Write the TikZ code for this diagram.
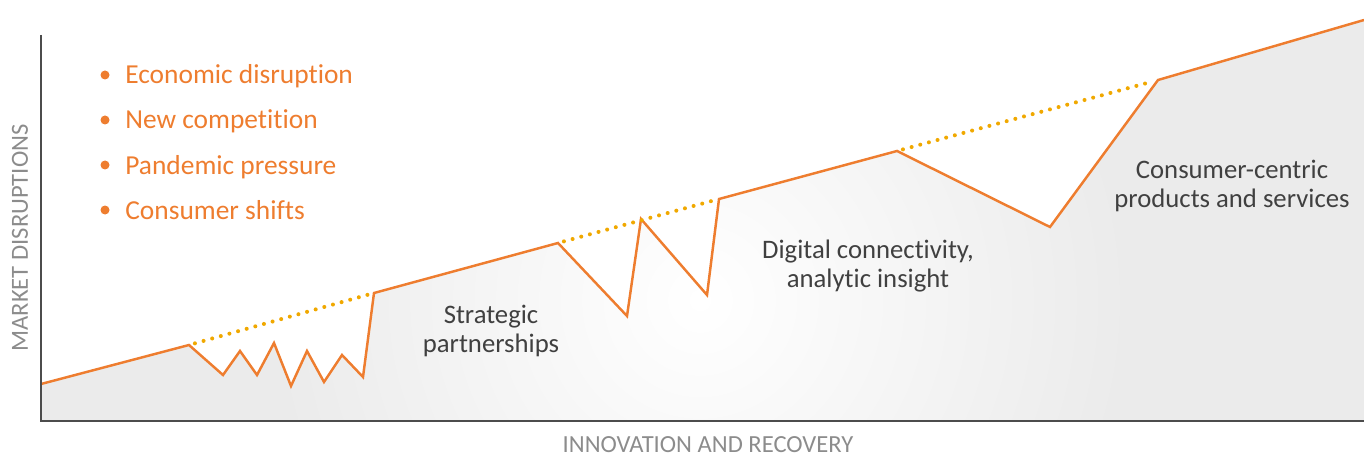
\documentclass[tikz,border=0pt]{standalone}
\usepackage{fontspec}
\setmainfont{Carlito}[Ligatures={NoCommon,NoRequired,NoContextual}]
\definecolor{trend}{HTML}{EE7D2F}
\definecolor{gapdots}{HTML}{F0A800}
\definecolor{axisgray}{HTML}{8C8C8C}
\definecolor{textgray}{HTML}{404040}
\definecolor{areagray}{HTML}{EBEBEB}
\begin{document}
\begin{tikzpicture}[x=0.02cm, y=-0.02cm, line join=miter,
	trendline/.style={trend, line width=1.4pt},
	gapline/.style={gapdots, line width=2.3pt, line cap=round, dash pattern=on 0pt off 5.1pt, shorten <=3.5pt, shorten >=3.5pt},
	axisline/.style={black!70, line width=1.1pt},
	stagelabel/.style={textgray, align=center, font=\fontsize{15.2}{16.5}\selectfont},
	axislabel/.style={axisgray, inner sep=0pt, font=\fontsize{14}{16}\selectfont},
	bulletitem/.style={trend, anchor=base west, inner sep=0pt, font=\fontsize{15.6}{18}\selectfont}]
	\useasboundingbox (0,0) rectangle (1364,459);
	% axes corners
	\coordinate (ytop) at (41,35);
	\coordinate (origin) at (41,421);
	\coordinate (xend) at (1364,421);
	% points of the trend line
	\foreach \px/\py [count=\i] in {41/384, 189/345, 223/375, 240/351, 257/375, 274/343, 291/386, 307/351, 324/382, 342/355, 363/377, 374/293, 558/243, 627/316, 641/219, 707/295, 719/199, 897/151, 1050/227, 1158/80, 1364/20}
		\coordinate (p\i) at (\px,\py);
	\def\trendpath{(p1) foreach \i in {2,...,21} {-- (p\i)}}
	\fill[areagray] \trendpath -- (xend) -- (origin) -- cycle;
	\begin{scope}
		\clip \trendpath -- (xend) -- (origin) -- cycle;
		\shade[inner color=white, outer color=areagray] (700,300) circle (430);
	\end{scope}
	\draw[trendline] \trendpath;
	\draw[gapline] (p2) -- (p12);
	\draw[gapline] (p13) -- (p17);
	\draw[gapline] (p18) -- (p20);
	\draw[axisline] (ytop) -- (origin) -- (xend);
	\node[axislabel, rotate=90] (ylabel) at (20,238) {MARKET DISRUPTIONS};
	\node[axislabel] (xlabel) at (708,445) {INNOVATION AND RECOVERY};
	\foreach \t [count=\i] in {Economic disruption, New competition, Pandemic pressure, Consumer shifts} {
		\fill[trend] (105,30+45*\i) circle (4.5);
		\node[bulletitem] (b\i) at (125,39+45*\i) {\t};
	}
	\node[stagelabel] (strategic) at (491,331) {Strategic\\partnerships};
	\node[stagelabel] (digital) at (868,266) {Digital connectivity,\\analytic insight};
	\node[stagelabel] (consumer) at (1232,186) {Consumer-centric\\products and services};
\end{tikzpicture}
\end{document}
